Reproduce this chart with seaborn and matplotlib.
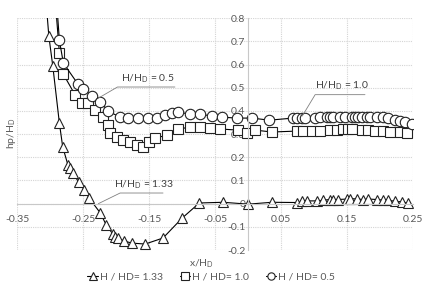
import pandas as pd
import seaborn as sns
import matplotlib.pyplot as plt

# datos (x/HD, hp/HD)
x_133 = [-0.307, -0.302, -0.296, -0.286, -0.281, -0.273, -0.270, -0.265, -0.257, -0.248,
         -0.241, -0.224, -0.215, -0.205, -0.202, -0.197, -0.188, -0.176, -0.156, -0.129,
         -0.100, -0.074, -0.038, 0.000, 0.036, 0.074, 0.082, 0.089, 0.105, 0.114,
         0.124, 0.129, 0.136, 0.150, 0.155, 0.165, 0.174, 0.182, 0.195, 0.205,
         0.212, 0.223, 0.233, 0.242]
y_133 = [0.900, 0.722, 0.593, 0.347, 0.245, 0.166, 0.153, 0.132, 0.093, 0.059,
         0.024, -0.040, -0.092, -0.131, -0.144, -0.148, -0.161, -0.170, -0.174, -0.148,
         -0.062, 0.003, 0.006, -0.002, 0.006, 0.005, 0.010, 0.012, 0.012, 0.015,
         0.018, 0.015, 0.018, 0.020, 0.022, 0.020, 0.018, 0.020, 0.018, 0.015,
         0.015, 0.010, 0.008, 0.002]

x_10 = [-0.293, -0.286, -0.280, -0.262, -0.252, -0.242, -0.232, -0.220, -0.212, -0.209,
        -0.199, -0.190, -0.179, -0.168, -0.159, -0.151, -0.141, -0.123, -0.107, -0.088,
        -0.073, -0.058, -0.042, -0.015, -0.002, 0.011, 0.036, 0.074, 0.083, 0.097,
        0.109, 0.124, 0.135, 0.144, 0.152, 0.158, 0.173, 0.182, 0.192, 0.205,
        0.215, 0.230, 0.241]
y_10 = [0.900, 0.649, 0.558, 0.468, 0.433, 0.433, 0.403, 0.373, 0.339, 0.304,
        0.287, 0.274, 0.265, 0.253, 0.244, 0.265, 0.282, 0.296, 0.320, 0.331,
        0.331, 0.325, 0.322, 0.317, 0.304, 0.317, 0.309, 0.313, 0.313, 0.313,
        0.315, 0.317, 0.317, 0.320, 0.322, 0.320, 0.318, 0.317, 0.315, 0.313,
        0.310, 0.308, 0.306]

x_05 = [-0.291, -0.286, -0.280, -0.258, -0.250, -0.236, -0.224, -0.212, -0.194, -0.182,
        -0.167, -0.152, -0.138, -0.126, -0.115, -0.106, -0.088, -0.073, -0.055, -0.040,
        -0.017, 0.006, 0.032, 0.068, 0.074, 0.082, 0.086, 0.102, 0.109, 0.120,
        0.124, 0.129, 0.139, 0.147, 0.158, 0.162, 0.167, 0.173, 0.180, 0.185,
        0.195, 0.205, 0.212, 0.223, 0.230, 0.238, 0.248]
y_05 = [0.900, 0.704, 0.606, 0.516, 0.494, 0.464, 0.438, 0.399, 0.373, 0.369,
        0.369, 0.369, 0.369, 0.382, 0.390, 0.395, 0.386, 0.386, 0.378, 0.373,
        0.369, 0.369, 0.360, 0.369, 0.369, 0.370, 0.370, 0.370, 0.372, 0.372,
        0.373, 0.373, 0.374, 0.374, 0.375, 0.375, 0.375, 0.375, 0.374, 0.374,
        0.372, 0.372, 0.370, 0.360, 0.357, 0.352, 0.343]

series_labels = ['H / HD= 1.33', 'H / HD= 1.0', 'H / HD= 0.5']
x_ticks = [-0.35, -0.25, -0.15, -0.05, 0.05, 0.15, 0.25]
y_ticks = [-0.2, -0.1, 0, 0.1, 0.2, 0.3, 0.4, 0.5, 0.6, 0.7, 0.8]
y_ticklabels = ['-0.2', '-0.1', '0', '0.1', '0.2', '0.3', '0.4', '0.5', '0.6', '0.7', '0.8']

sns.set_style('white')
plt.rcParams['font.family'] = ['Lato', 'DejaVu Sans']
plt.rcParams['mathtext.default'] = 'regular'
gris = '#595959'

fig, ax = plt.subplots(figsize=(4.4, 2.97), dpi=100)
fig.subplots_adjust(left=0.039, right=0.939, top=0.939, bottom=0.158)

estilo = dict(color='black', linewidth=0.8, markerfacecolor='white',
              markeredgecolor='#222222', markeredgewidth=0.8, markersize=7.5,
              estimator=None, sort=False)
sns.lineplot(x=x_133, y=y_133, marker='^', label=series_labels[0], ax=ax, **estilo)
sns.lineplot(x=x_10, y=y_10, marker='s', label=series_labels[1], ax=ax, **estilo)
sns.lineplot(x=x_05, y=y_05, marker='o', label=series_labels[2], ax=ax, **estilo)

ax.set_xlim(-0.35, 0.25)
ax.set_ylim(-0.2, 0.8)
ax.set_xticks(x_ticks)
ax.set_xticklabels([str(t) for t in x_ticks])
ax.set_yticks(y_ticks)
ax.set_yticklabels(y_ticklabels)
ax.grid(True, color='#d4d4d4', linestyle=(0, (1, 1)), linewidth=0.8)
ax.set_axisbelow(True)

# ejes cruzando en el cero, estilo Excel
ax.spines['left'].set_position(('data', 0))
ax.spines['bottom'].set_position(('data', 0))
for s in ['top', 'right']:
    ax.spines[s].set_visible(False)
for s in ['left', 'bottom']:
    ax.spines[s].set_color('#c8c8c8')
    ax.spines[s].set_linewidth(0.8)
ax.tick_params(axis='both', length=0, labelsize=7.5, colors=gris)
ax.tick_params(axis='x', pad=8)
ax.tick_params(axis='y', pad=2)
ax.set_xlabel('')
ax.set_ylabel('')

fig.text(0.025, 0.55, 'hp/H$_D$', rotation=90, ha='center', va='center', fontsize=7.5, color=gris)
fig.text(0.457, 0.112, 'x/H$_D$', ha='center', va='center', fontsize=7.5, color=gris)

# anotaciones con linea guia
notas = [('H/H$_D$ = 0.5', (-0.227, 0.455), (-0.198, 0.503), -0.111),
         ('H/H$_D$ = 1.0', (0.082, 0.378), (0.1015, 0.470), 0.177),
         ('H/H$_D$ = 1.33', (-0.227, 0.0), (-0.194, 0.046), -0.129)]
for txt, punto, ini, fin in notas:
    ax.plot([punto[0], ini[0], fin], [punto[1], ini[1], ini[1]], color='#808080', linewidth=0.6)
    ax.text((ini[0] + fin) / 2 + 0.003, ini[1] + 0.01, txt, ha='center', va='bottom',
            fontsize=7.5, color='#404040')

ax.get_legend().remove()
h, l = ax.get_legend_handles_labels()
fig.legend(h, l, loc='center', bbox_to_anchor=(0.48, 0.067), ncol=3, frameon=False,
           fontsize=7.5, labelcolor=gris, markerscale=0.7, handlelength=1.0,
           handletextpad=0.2, columnspacing=1.6)

plt.savefig('out.png', dpi=100)
